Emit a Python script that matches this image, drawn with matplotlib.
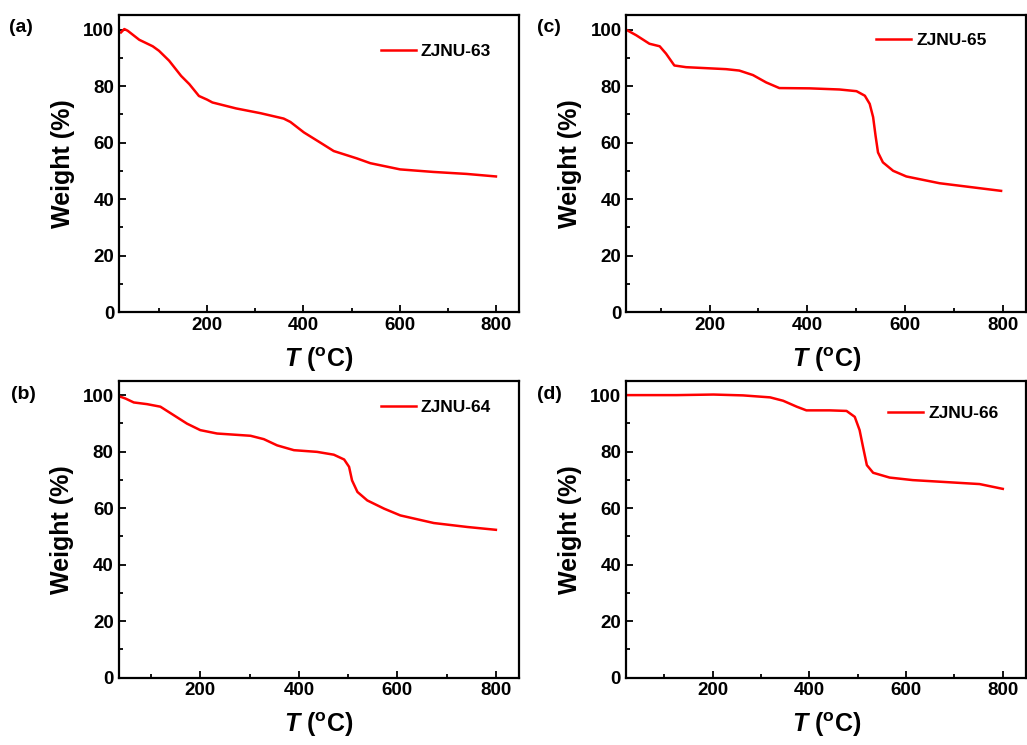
import matplotlib.pyplot as plt
from matplotlib.ticker import MultipleLocator

plt.rcParams['font.family'] = 'Liberation Sans'
plt.rcParams['font.weight'] = 'bold'
plt.rcParams['mathtext.fontset'] = 'custom'
plt.rcParams['mathtext.bfit'] = 'Liberation Sans:italic:bold'
plt.rcParams['mathtext.bf'] = 'Liberation Sans:bold'

# ---------------- data ----------------
t_63 = [21, 28, 35, 59, 87, 100, 121, 146, 163, 183, 200, 211, 260, 311, 359, 373,
        401, 435, 463, 511, 539, 601, 670, 739, 800]
w_63 = [99.0, 100.2, 99.6, 96.4, 94.1, 92.5, 89.0, 83.6, 80.7, 76.5, 75.2, 74.2, 72.1,
        70.4, 68.5, 67.3, 63.6, 60.0, 57.0, 54.4, 52.7, 50.5, 49.6, 48.9, 48.0]

t_64 = [35, 48, 65, 92, 119, 146, 173, 200, 234, 302, 329, 356, 390, 437, 471, 492,
        502, 508, 519, 539, 573, 606, 674, 742, 800]
w_64 = [99.6, 98.8, 97.4, 96.8, 95.9, 92.9, 89.9, 87.6, 86.4, 85.6, 84.4, 82.2, 80.5,
        79.9, 78.9, 77.2, 74.6, 69.8, 65.7, 62.7, 59.8, 57.4, 54.7, 53.3, 52.3]

t_65 = [29, 50, 77, 98, 111, 128, 152, 234, 261, 289, 316, 343, 405, 466, 501, 518,
        528, 535, 540, 545, 555, 576, 603, 671, 797]
w_65 = [100.0, 98.0, 95.0, 94.1, 91.5, 87.3, 86.7, 86.0, 85.5, 83.9, 81.3, 79.3, 79.2,
        78.8, 78.2, 76.6, 73.7, 69.0, 62.4, 56.5, 53.0, 50.0, 48.0, 45.6, 42.9]

t_66 = [22, 126, 202, 263, 319, 346, 374, 394, 442, 477, 494, 504, 511, 519, 532, 566,
        614, 683, 752, 800]
w_66 = [100.0, 100.0, 100.2, 99.9, 99.2, 98.0, 95.9, 94.6, 94.6, 94.4, 92.3, 87.6, 81.7,
        75.2, 72.5, 70.8, 69.9, 69.2, 68.5, 66.8]

names = ['ZJNU-63', 'ZJNU-64', 'ZJNU-65', 'ZJNU-66']
panel_tags = ['(a)', '(b)', '(c)', '(d)']

# ---------------- figure ----------------
fig = plt.figure(figsize=(10.27, 7.45), dpi=100)

# [left, bottom, width, height], x-limits, legend anchor, tag position
panels = [
    (t_63, w_63, [0.1159, 0.5812, 0.3895, 0.3980], (17, 848), (0.93, 0.88), (0.009, 0.963)),
    (t_64, w_64, [0.1154, 0.0906, 0.3900, 0.3980], (34, 847), (0.93, 0.91), (0.011, 0.470)),
    (t_65, w_65, [0.6100, 0.5812, 0.3895, 0.3980], (30, 849), (0.90, 0.915), (0.523, 0.963)),
    (t_66, w_66, [0.6095, 0.0906, 0.3900, 0.3980], (21, 849), (0.93, 0.89), (0.523, 0.470)),
]

for (t, w, rect, xl, leg_xy, tag_xy), name, tag in zip(panels, names, panel_tags):
    ax = fig.add_axes(rect)
    ax.plot(t, w, color='#ff0000', lw=1.8, label=name)
    ax.set_xlim(*xl)
    ax.set_ylim(0, 105)
    ax.xaxis.set_major_locator(MultipleLocator(200))
    ax.xaxis.set_minor_locator(MultipleLocator(100))
    ax.yaxis.set_major_locator(MultipleLocator(20))
    ax.yaxis.set_minor_locator(MultipleLocator(10))
    ax.tick_params(which='both', direction='in', top=False, right=False,
                   width=1.3, labelsize=13.5)
    ax.tick_params(which='major', length=5)
    ax.tick_params(which='minor', length=3)
    for s in ax.spines.values():
        s.set_linewidth(1.6)
    ax.set_xlabel(r'$\mathbfit{T}$ ($\mathbf{^o}$C)', fontsize=18, fontweight='bold', labelpad=8)
    ax.set_ylabel('Weight (%)', fontsize=18, fontweight='bold', labelpad=6)
    ax.legend(loc='center right', bbox_to_anchor=leg_xy, frameon=False, fontsize=12.5,
              handlelength=2.0, handletextpad=0.3, borderpad=0, borderaxespad=0)
    fig.text(tag_xy[0], tag_xy[1], tag, fontsize=14, fontweight='bold', va='center')

fig.savefig('out.png', dpi=100)
